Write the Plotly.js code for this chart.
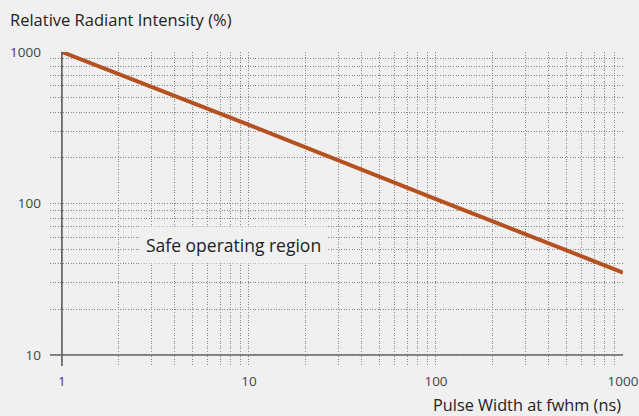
<!DOCTYPE html>
<html>
<head>
<meta charset="utf-8">
<script src="https://cdn.plot.ly/plotly-3.0.1.min.js"></script>
<style>html,body{margin:0;padding:0;background:#f0f0f0;}#chart{width:639px;height:416px;}</style>
</head>
<body>
<div id="chart"></div>
<script>
const pulseWidth = [1, 10, 100, 1000];
const intensity = [1000, 330, 107, 35];
const xTickVals = [1, 10, 100, 1000];
const xTickText = ['1', '10', '100', '1000'];
const yTickVals = [10, 100, 1000];
const yTickText = ['10', '100', '1000'];
const xMinorVals = [2,3,4,5,6,7,8,9,20,30,40,50,60,70,80,90,200,300,400,500,600,700,800,900];
const yMinorVals = [20,30,40,50,60,70,80,90,200,300,400,500,600,700,800,900];

const fontFam = '"Open Sans", "Noto Sans", sans-serif';
const gridCol = '#858585';
const gridDash = '1px,1.6px';

const trace = {
  x: pulseWidth, y: intensity, type: 'scatter', mode: 'lines',
  line: {color: '#b5501f', width: 4}, hoverinfo: 'skip'
};

const layout = {
  width: 639, height: 416,
  paper_bgcolor: '#f0f0f0', plot_bgcolor: '#f0f0f0',
  margin: {l: 50, r: 16, t: 52, b: 50},
  showlegend: false,
  font: {family: fontFam, size: 14, color: '#333'},
  xaxis: {
    type: 'log', range: [-0.064, 3], showline: false, zeroline: false,
    tickmode: 'array', tickvals: xTickVals, ticktext: xTickText,
    ticks: '', ticklabelstandoff: 5,
    showgrid: true, gridcolor: gridCol, griddash: gridDash, gridwidth: 1,
    minor: {tickmode: 'array', tickvals: xMinorVals, showgrid: true, gridcolor: gridCol, griddash: gridDash, gridwidth: 1, ticks: ''},
    tickfont: {family: fontFam, size: 13.5, color: '#444'}
  },
  yaxis: {
    type: 'log', range: [0.927, 3], showline: false, zeroline: false,
    tickmode: 'array', tickvals: yTickVals, ticktext: yTickText,
    ticks: '', ticklabelstandoff: 8,
    showgrid: true, gridcolor: gridCol, griddash: gridDash, gridwidth: 1,
    minor: {tickmode: 'array', tickvals: yMinorVals, showgrid: true, gridcolor: gridCol, griddash: gridDash, gridwidth: 1, ticks: ''},
    tickfont: {family: fontFam, size: 13.5, color: '#444'}
  },
  shapes: [
    {type: 'line', xref: 'x', yref: 'paper', x0: 1, x1: 1, y0: 0, y1: 1, line: {color: '#555', width: 1.5}, layer: 'above'},
    {type: 'line', xref: 'paper', yref: 'y', x0: 0, x1: 1, y0: 10, y1: 10, line: {color: '#666', width: 1.5}, layer: 'above'}
  ],
  annotations: [
    {text: 'Relative Radiant Intensity (%)', xref: 'paper', yref: 'paper', x: -0.073, y: 1.105,
     xanchor: 'left', yanchor: 'middle', showarrow: false, font: {family: fontFam, size: 16.5, color: '#222'}},
    {text: 'Pulse Width at fwhm (ns)', xref: 'paper', yref: 'paper', x: 1.0, y: -0.125,
     xanchor: 'right', yanchor: 'middle', showarrow: false, font: {family: fontFam, size: 16.3, color: '#222'}},
    {text: 'Safe operating region', xref: 'x', yref: 'y', x: Math.log10(8.3), y: Math.log10(53),
     xanchor: 'center', yanchor: 'middle', showarrow: false, bgcolor: '#f0f0f0', borderpad: 6,
     font: {family: fontFam, size: 17.5, color: '#222'}}
  ]
};

Plotly.newPlot('chart', [trace], layout, {displayModeBar: false, staticPlot: true});
</script>
</body>
</html>
